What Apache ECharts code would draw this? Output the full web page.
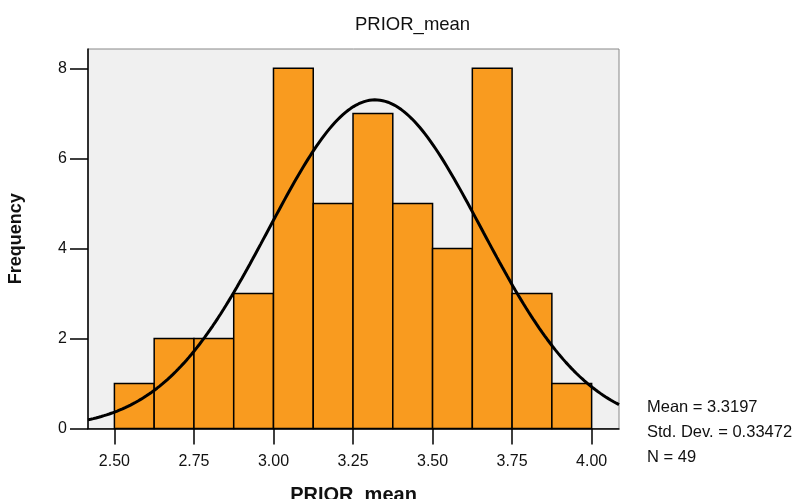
<!DOCTYPE html>
<html>
<head>
<meta charset="utf-8">
<script src="https://cdn.jsdelivr.net/npm/echarts@6/dist/echarts.min.js"></script>
<style>
html,body{margin:0;padding:0;background:#fff;}
#c{width:799px;height:499px;}
</style>
</head>
<body>
<div id="c"></div>
<script>
// Histogram bins (lower edges, upper edges) and frequencies
const binStarts = [2.500, 2.625, 2.750, 2.875, 3.000, 3.125, 3.250, 3.375, 3.500, 3.625, 3.750, 3.875];
const binEnds   = [2.625, 2.750, 2.875, 3.000, 3.125, 3.250, 3.375, 3.500, 3.625, 3.750, 3.875, 4.000];
const counts    = [1, 2, 2, 3, 8, 5, 7, 5, 4, 8, 3, 1];
const xTicks = [2.50, 2.75, 3.00, 3.25, 3.50, 3.75, 4.00];
const yTicks = [0, 2, 4, 6, 8];
// Summary statistics shown in the chart
const statMean = 3.3197;
const statSD = 0.33472;
const statN = 49;
const binWidth = 0.125;

const xMin = 2.417, xMax = 4.086;

// Fitted normal curve from displayed stats
const curve = [];
for (let i = 0; i <= 200; i++) {
  const x = xMin + (xMax - xMin) * i / 200;
  const z = (x - statMean) / statSD;
  const y = statN * binWidth * Math.exp(-0.5 * z * z) / (statSD * Math.sqrt(2 * Math.PI));
  curve.push([x, y]);
}

const barData = binStarts.map((s, i) => [s, binEnds[i], counts[i]]);

const chart = echarts.init(document.getElementById('c'), null, {renderer: 'canvas'});
const font = 'Liberation Sans, Arial, sans-serif';
chart.setOption({
  animation: false,
  backgroundColor: '#ffffff',
  title: {
    text: 'PRIOR_mean',
    left: 350, top: 10,
    textStyle: {fontFamily: font, fontSize: 18.5, fontWeight: 'normal', color: '#111'}
  },
  grid: {
    left: 88, right: 180, top: 49, bottom: 70.5,
    containLabel: false, outerBoundsMode: 'none',
    show: true, backgroundColor: '#f0f0f0', borderColor: '#888', borderWidth: 1
  },
  xAxis: {
    type: 'value', min: xMin, max: xMax,
    name: 'PRIOR_mean', nameLocation: 'middle', nameGap: 57,
    nameTextStyle: {fontFamily: font, fontSize: 20, fontWeight: 'bold', color: '#111'},
    axisLine: {show: true, lineStyle: {color: '#000', width: 1.5}},
    axisTick: {show: true, inside: false, length: 16, customValues: xTicks, lineStyle: {color: '#000', width: 1.5}},
    axisLabel: {customValues: xTicks, margin: 25, formatter: v => v.toFixed(2),
      fontFamily: font, fontSize: 16, color: '#111'},
    splitLine: {show: false}
  },
  yAxis: {
    type: 'value', min: 0, max: 8.43,
    name: 'Frequency', nameLocation: 'middle', nameGap: 63,
    nameTextStyle: {fontFamily: font, fontSize: 18, fontWeight: 'bold', color: '#111'},
    axisLine: {show: true, lineStyle: {color: '#000', width: 1.5}},
    axisTick: {show: true, inside: false, length: 18, customValues: yTicks, lineStyle: {color: '#000', width: 1.5}},
    axisLabel: {customValues: yTicks, margin: 21, fontFamily: font, fontSize: 16, color: '#111'},
    splitLine: {show: false}
  },
  series: [
    {
      type: 'custom',
      data: barData,
      renderItem: function (params, api) {
        const p0 = api.coord([api.value(0), api.value(2)]);
        const p1 = api.coord([api.value(1), 0]);
        return {
          type: 'rect',
          shape: {x: p0[0], y: p0[1], width: p1[0] - p0[0], height: p1[1] - p0[1]},
          style: {fill: '#f99b1f', stroke: '#000', lineWidth: 1.5}
        };
      },
      z: 2
    },
    {
      type: 'line',
      data: curve,
      showSymbol: false,
      smooth: false,
      clip: true,
      lineStyle: {color: '#000', width: 3},
      z: 3
    }
  ],
  graphic: [
    {type: 'text', left: 647, top: 399, style: {text: 'Mean = ' + statMean.toFixed(4), font: '16.5px ' + font, fill: '#111'}},
    {type: 'text', left: 647, top: 424, style: {text: 'Std. Dev. = ' + statSD.toFixed(5), font: '16.5px ' + font, fill: '#111'}},
    {type: 'text', left: 647, top: 449, style: {text: 'N = ' + statN, font: '16.5px ' + font, fill: '#111'}}
  ]
});
</script>
</body>
</html>
